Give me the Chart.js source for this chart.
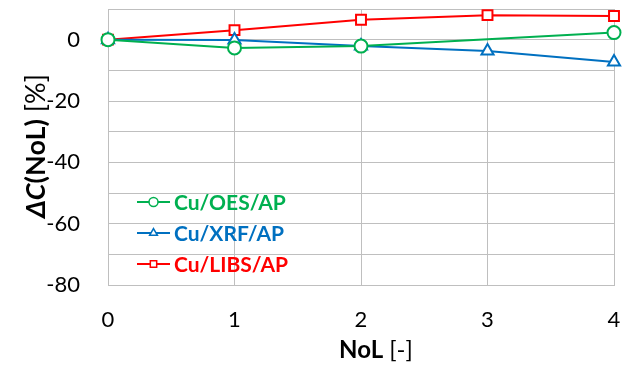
<!DOCTYPE html>
<html><head><meta charset="utf-8">
<script src="https://cdn.jsdelivr.net/npm/chart.js@4"></script>
<style>html,body{margin:0;padding:0;background:#fff}#w{width:623px;height:365px}</style>
</head><body><div id="w"><canvas id="c"></canvas></div>
<script>
const categories = ['0','1','2','3','4'];
const oesValues  = [0, -2.7, -2.1, null, 2.3];
const xrfValues  = [0, -0.1, -2.1, -3.7, -7.3];
const libsValues = [0, 3.1, 6.5, 8.0, 7.7];
const seriesNames = ['Cu/OES/AP','Cu/XRF/AP','Cu/LIBS/AP'];
const yTicks = [-80,-70,-60,-50,-40,-30,-20,-10,0,10];

const FONT = 'Lato, "Open Sans", sans-serif';
const colors = ['#00B050','#0070C0','#FF0000'];
const styles = ['circle','triangle','rect'];
const radii = [6.5,7,7];

const overlay = {
  id:'overlay',
  afterDraw(chart){
    const ctx = chart.ctx;
    ctx.save();
    // legend
    const ly = [202,233,264];
    for(let i=0;i<3;i++){
      ctx.strokeStyle = colors[i]; ctx.lineWidth = 2;
      ctx.beginPath(); ctx.moveTo(137,ly[i]); ctx.lineTo(170,ly[i]); ctx.stroke();
      ctx.fillStyle = '#fff';
      ctx.strokeStyle = colors[i]; ctx.lineWidth=1.5;
      Chart.helpers.drawPoint(ctx,{pointStyle:styles[i],radius:4.5,borderWidth:1.5},153.5,ly[i]);
      ctx.fillStyle = colors[i];
      ctx.font = 'bold 21px ' + FONT;
      ctx.textBaseline = 'middle'; ctx.textAlign = 'left';
      ctx.fillText(seriesNames[i], 174, ly[i]+1);
    }
    // x title
    ctx.fillStyle = '#000';
    ctx.textBaseline = 'alphabetic';
    ctx.font = 'bold 24px ' + FONT;
    const t1 = 'NoL', t2 = ' [-]';
    const w1 = ctx.measureText(t1).width;
    ctx.font = '24px ' + FONT;
    const w2 = ctx.measureText(t2).width;
    let x0 = 376 - (w1+w2)/2;
    ctx.font = 'bold 24px ' + FONT; ctx.fillText(t1, x0, 358);
    ctx.font = '24px ' + FONT; ctx.fillText(t2, x0+w1, 358);
    // y title
    ctx.translate(45, 146); ctx.rotate(-Math.PI/2);
    const parts = [['bold italic 27px ','ΔC'],['bold 27px ','(NoL)'],['27px ',' [%]']];
    let tw = 0;
    parts.forEach(p=>{ctx.font=p[0]+FONT; tw+=ctx.measureText(p[1]).width;});
    let xx = -tw/2;
    parts.forEach(p=>{ctx.font=p[0]+FONT; ctx.fillText(p[1], xx, 0); xx+=ctx.measureText(p[1]).width;});
    ctx.restore();
  }
};

function ds(label, data, i){
  return {label, data, borderColor:colors[i], backgroundColor:'#fff',
    pointStyle:styles[i], pointRadius:radii[i], pointHoverRadius:radii[i],
    pointBorderWidth:2, pointBackgroundColor:'#fff', pointBorderColor:colors[i],
    borderWidth:2, tension:0, spanGaps:true};
}

new Chart(document.getElementById('c'),{
  type:'line',
  data:{labels:categories, datasets:[
    ds(seriesNames[0], oesValues, 0),
    ds(seriesNames[1], xrfValues, 1),
    ds(seriesNames[2], libsValues, 2)
  ]},
  options:{
    responsive:true, maintainAspectRatio:false, animation:false,
    layout:{padding:{top:8,right:9,left:0,bottom:0}},
    plugins:{legend:{display:false}, tooltip:{enabled:false}},
    scales:{
      x:{offset:false,
        grid:{color:'#BFBFBF',lineWidth:1,drawTicks:false},
        border:{color:'#BFBFBF'},
        ticks:{font:{family:FONT,size:22},color:'#000',padding:22,maxRotation:0,autoSkip:false},
        afterFit(s){s.height=80; s.paddingLeft=0; s.paddingRight=0;}
      },
      y:{min:-80,max:10,
        afterBuildTicks(s){s.ticks = yTicks.map(v=>({value:v}));},
        grid:{color:'#BFBFBF',lineWidth:1,drawTicks:false},
        border:{color:'#BFBFBF'},
        ticks:{font:{family:FONT,size:22},color:'#000',padding:28,autoSkip:false,
          callback:(v)=> (v%20===0 && v<=0) ? String(v) : ''},
        afterFit(s){s.width=108; s.paddingTop=0; s.paddingBottom=0;}
      }
    }
  },
  plugins:[overlay]
});
</script></body></html>
